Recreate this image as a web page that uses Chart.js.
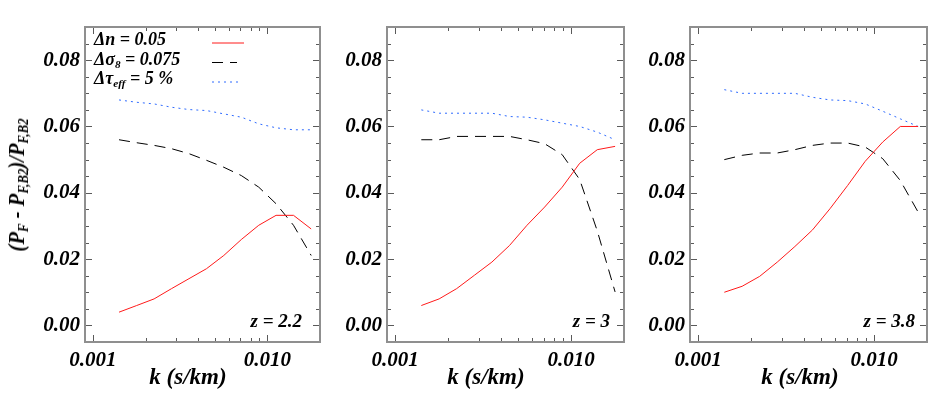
<!DOCTYPE html>
<html>
<head>
<meta charset="utf-8">
<script src="https://cdn.jsdelivr.net/npm/chart.js@4/dist/chart.umd.min.js"></script>
<style>
  body { margin: 0; background: #fff; }
  #wrap { position: relative; width: 945px; height: 393px; overflow: hidden; background: #fff; }
  canvas { position: absolute; top: 0; }
  .txt { position: absolute; font-family: 'Liberation Serif', 'DejaVu Serif', serif; font-weight: bold; font-style: italic; color: #000; white-space: nowrap; }
  .txt sub { font-size: 0.62em; vertical-align: -0.3em; line-height: 0; }
  .leg { font-size: 18px; line-height: 22px; left: 94px; }
  .ztag { font-size: 19px; line-height: 22px; text-align: right; width: 80px; }
  .xtitle { font-size: 23px; line-height: 26px; text-align: center; width: 140px; top: 364px; }
  #ytitle { font-size: 24px; line-height: 30px; text-align: center; width: 220px; left: -94px; top: 170px; transform: rotate(-90deg) scaleX(0.86); }
</style>
</head>
<body>
<div id="wrap">
  <canvas id="c1" width="330" height="393" style="left:0px"></canvas>
  <canvas id="c2" width="300" height="393" style="left:330px"></canvas>
  <canvas id="c3" width="315" height="393" style="left:630px"></canvas>

  <div class="txt" id="ytitle">(P<sub>F</sub> - P<sub>F,B2</sub>)/P<sub>F,B2</sub></div>

  <div class="txt leg" style="top:28px">&Delta;n = 0.05</div>
  <div class="txt leg" style="top:48px">&Delta;&sigma;<sub>8</sub> = 0.075</div>
  <div class="txt leg" style="top:67px">&Delta;&tau;<sub>eff</sub> = 5 %</div>
  <svg style="position:absolute;left:210px;top:30px" width="40" height="60">
    <line x1="2" y1="13" x2="34" y2="13" stroke="#ff1a1a" stroke-width="1"/>
    <line x1="2" y1="32.5" x2="27" y2="32.5" stroke="#000" stroke-width="1" stroke-dasharray="11 7"/>
    <line x1="2" y1="52" x2="32" y2="52" stroke="#2f6bff" stroke-width="1" stroke-dasharray="2 4"/>
  </svg>

  <div class="txt ztag" style="left:222px;top:310px">z = 2.2</div>
  <div class="txt ztag" style="left:530px;top:310px">z = 3</div>
  <div class="txt ztag" style="left:835px;top:310px">z = 3.8</div>

  <div class="txt xtitle" style="left:118px">k (s/km)</div>
  <div class="txt xtitle" style="left:416px">k (s/km)</div>
  <div class="txt xtitle" style="left:730px">k (s/km)</div>
</div>

<script>
// k bins (s/km)
const kBins = [0.00141, 0.00178, 0.00224, 0.00282, 0.00355, 0.00447, 0.00562, 0.00708, 0.00891, 0.0112, 0.0141, 0.0178];

// z = 2.2
const dn22   = [0.0040, 0.0060, 0.0080, 0.0111, 0.0141, 0.0171, 0.0211, 0.0259, 0.0302, 0.0332, 0.0332, 0.0291];
const ds22   = [0.0560, 0.0551, 0.0543, 0.0533, 0.0518, 0.0498, 0.0477, 0.0452, 0.0417, 0.0367, 0.0302, 0.0211];
const dtau22 = [0.0680, 0.0673, 0.0668, 0.0658, 0.0651, 0.0648, 0.0638, 0.0628, 0.0608, 0.0596, 0.0590, 0.0590];

// z = 3
const dn3   = [0.0060, 0.0080, 0.0111, 0.0151, 0.0191, 0.0241, 0.0302, 0.0357, 0.0417, 0.0489, 0.0530, 0.0540];
const ds3   = [0.0560, 0.0560, 0.0570, 0.0570, 0.0570, 0.0570, 0.0560, 0.0548, 0.0515, 0.0440, 0.0285, 0.0101];
const dtau3 = [0.0650, 0.0640, 0.0640, 0.0640, 0.0640, 0.0630, 0.0628, 0.0620, 0.0610, 0.0600, 0.0583, 0.0560];

// z = 3.8
const dn38   = [0.0100, 0.0118, 0.0148, 0.0191, 0.0238, 0.0288, 0.0352, 0.0422, 0.0495, 0.0553, 0.0600, 0.0600];
const ds38   = [0.0500, 0.0513, 0.0520, 0.0520, 0.0530, 0.0543, 0.0550, 0.0550, 0.0538, 0.0503, 0.0437, 0.0342];
const dtau38 = [0.0711, 0.0700, 0.0700, 0.0700, 0.0700, 0.0688, 0.0680, 0.0678, 0.0668, 0.0646, 0.0623, 0.0600];

// axis ticks
const yTicks = [0.00, 0.02, 0.04, 0.06, 0.08];
const xTicks = [0.001, 0.01];

const X_MIN = 0.0009, X_MAX = 0.02;
const Y_MIN = -0.005, Y_MAX = 0.09;

const tickFont = { family: "'Liberation Serif', 'DejaVu Serif', serif", size: 21, weight: 'bold', style: 'italic' };

function toPoints(vals) {
    return kBins.map((k, i) => ({ x: k, y: vals[i] }));
}

// frame + inward IDL-style ticks on all four sides
const frameTicks = {
    id: 'frameTicks',
    afterDraw(chart) {
        const { ctx, chartArea: a, scales: { x, y } } = chart;
        ctx.save();
        ctx.strokeStyle = '#5a5a5a';
        ctx.lineWidth = 1;
        ctx.beginPath();
        // y ticks every 0.005, major at 0.02
        for (let j = 0; j <= 17; j++) {
            const v = j * 0.005;
            const py = Math.round(y.getPixelForValue(v)) + 0.5;
            if (py <= a.top + 1 || py >= a.bottom - 1) continue;
            const len = (j % 4 === 0) ? 7 : 4;
            ctx.moveTo(a.left, py); ctx.lineTo(a.left + len, py);
            ctx.moveTo(a.right, py); ctx.lineTo(a.right - len, py);
        }
        // x ticks on log scale
        [0.0001, 0.001, 0.01].forEach(d => {
            for (let m = 1; m <= 9; m++) {
                const v = m * d;
                if (v <= X_MIN || v >= X_MAX) continue;
                const px = Math.round(x.getPixelForValue(v)) + 0.5;
                const len = (m === 1) ? 7 : 4;
                ctx.moveTo(px, a.bottom); ctx.lineTo(px, a.bottom - len);
                ctx.moveTo(px, a.top); ctx.lineTo(px, a.top + len);
            }
        });
        ctx.stroke();
        ctx.strokeStyle = '#8f8f8f';
        ctx.lineWidth = 2;
        ctx.strokeRect(a.left, a.top, a.right - a.left, a.bottom - a.top);
        ctx.restore();
    }
};

function makePanel(id, yWidth, rightPad, dn, ds, dtau) {
    const ctx = document.getElementById(id).getContext('2d');
    return new Chart(ctx, {
        type: 'scatter',
        data: {
            datasets: [
                { label: 'dn', data: toPoints(dn), showLine: true, borderColor: '#ff1a1a', borderWidth: 1, pointRadius: 0, tension: 0 },
                { label: 'dsigma8', data: toPoints(ds), showLine: true, borderColor: '#000000', borderWidth: 1, borderDash: [11, 7], pointRadius: 0, tension: 0 },
                { label: 'dtau', data: toPoints(dtau), showLine: true, borderColor: '#2f6bff', borderWidth: 1, borderDash: [2, 4], pointRadius: 0, tension: 0 }
            ]
        },
        options: {
            responsive: false,
            animation: false,
            layout: { padding: { top: 27, right: rightPad, left: 0, bottom: 0 } },
            plugins: { legend: { display: false }, tooltip: { enabled: false } },
            scales: {
                x: {
                    type: 'logarithmic',
                    min: X_MIN,
                    max: X_MAX,
                    grid: { display: false, drawTicks: false },
                    border: { display: false },
                    afterBuildTicks: s => { s.ticks = xTicks.map(v => ({ value: v })); },
                    afterFit: s => { s.height = 51; },
                    ticks: {
                        color: '#000',
                        font: tickFont,
                        padding: 6,
                        maxRotation: 0,
                        autoSkip: false,
                        callback: v => v.toFixed(3)
                    }
                },
                y: {
                    min: Y_MIN,
                    max: Y_MAX,
                    grid: { display: false, drawTicks: false },
                    border: { display: false },
                    afterBuildTicks: s => { s.ticks = yTicks.map(v => ({ value: v })); },
                    afterFit: s => { s.width = yWidth; },
                    ticks: {
                        color: '#000',
                        font: tickFont,
                        padding: 5,
                        callback: v => v.toFixed(2)
                    }
                }
            }
        },
        plugins: [frameTicks]
    });
}

makePanel('c1', 85, 10, dn22, ds22, dtau22);
makePanel('c2', 57, 6, dn3, ds3, dtau3);
makePanel('c3', 60, 18, dn38, ds38, dtau38);
</script>
</body>
</html>
